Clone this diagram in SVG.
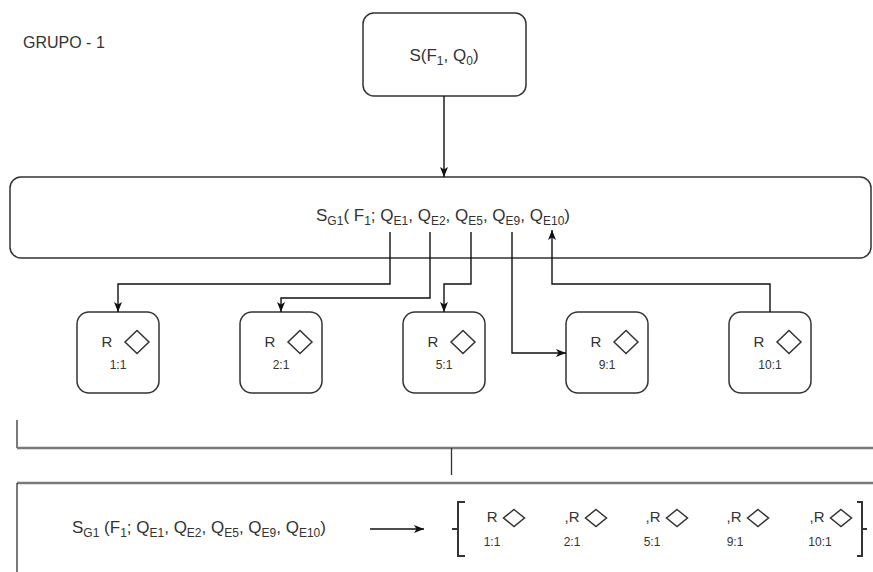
<svg xmlns="http://www.w3.org/2000/svg" width="873" height="572" viewBox="0 0 873 572">
<style>
  text { font-family: "Liberation Sans", Arial, sans-serif; fill: #333333; }
  .box { fill: #ffffff; stroke: #333333; stroke-width: 1.5; }
  .conn { fill: none; stroke: #111111; stroke-width: 1.4; }
  .big { font-size: 17px; }
  .sub { font-size: 12px; }
  .r { font-size: 15px; }
  .lbl { font-size: 12px; }
  .dia { fill: #ffffff; stroke: #333333; stroke-width: 1.5; }
  .rule { fill: none; stroke: #7a7a7a; stroke-width: 2.5; }
  .thin { fill: none; stroke: #333333; stroke-width: 1.3; }
  .brk { fill: none; stroke: #333333; stroke-width: 2; }
</style>
<defs>
  <marker id="arr" markerWidth="12" markerHeight="10" refX="10" refY="4" orient="auto" markerUnits="userSpaceOnUse">
    <path d="M0,0 L10,4 L0,8 L2.5,4 z" fill="#111111"/>
  </marker>
</defs>
<rect width="873" height="572" fill="#ffffff"/>

<g id="label-grupo">
  <text x="23" y="48" font-size="16">GRUPO - 1</text>
</g>

<g id="node-s">
  <rect class="box" x="363" y="13" width="163" height="83" rx="11"/>
  <text class="big" x="444" y="61" text-anchor="middle">S(F<tspan class="sub" dy="4">1</tspan><tspan dy="-4">, Q</tspan><tspan class="sub" dy="4">0</tspan><tspan dy="-4">)</tspan></text>
</g>

<g id="node-sg1">
  <rect class="box" x="10" y="177" width="861" height="81" rx="11"/>
  <text class="big" x="443" y="221" text-anchor="middle">S<tspan class="sub" dy="4">G1</tspan><tspan dy="-4">( F</tspan><tspan class="sub" dy="4">1</tspan><tspan dy="-4">; Q</tspan><tspan class="sub" dy="4">E1</tspan><tspan dy="-4">, Q</tspan><tspan class="sub" dy="4">E2</tspan><tspan dy="-4">, Q</tspan><tspan class="sub" dy="4">E5</tspan><tspan dy="-4">, Q</tspan><tspan class="sub" dy="4">E9</tspan><tspan dy="-4">, Q</tspan><tspan class="sub" dy="4">E10</tspan><tspan dy="-4">)</tspan></text>
</g>

<g id="node-r1">
  <rect class="box" x="77" y="312" width="82" height="81" rx="12"/>
  <text class="r" x="107" y="347" text-anchor="middle">R</text>
  <path class="dia" d="M137,330.5 L149,342 L137,353.5 L125,342 Z"/>
  <text class="lbl" x="118" y="369" text-anchor="middle">1:1</text>
</g>
<g id="node-r2">
  <rect class="box" x="240" y="312" width="82" height="81" rx="12"/>
  <text class="r" x="270" y="347" text-anchor="middle">R</text>
  <path class="dia" d="M300,330.5 L312,342 L300,353.5 L288,342 Z"/>
  <text class="lbl" x="281" y="369" text-anchor="middle">2:1</text>
</g>
<g id="node-r5">
  <rect class="box" x="403" y="312" width="82" height="81" rx="12"/>
  <text class="r" x="433" y="347" text-anchor="middle">R</text>
  <path class="dia" d="M463,330.5 L475,342 L463,353.5 L451,342 Z"/>
  <text class="lbl" x="444" y="369" text-anchor="middle">5:1</text>
</g>
<g id="node-r9">
  <rect class="box" x="566" y="312" width="82" height="81" rx="12"/>
  <text class="r" x="596" y="347" text-anchor="middle">R</text>
  <path class="dia" d="M626,330.5 L638,342 L626,353.5 L614,342 Z"/>
  <text class="lbl" x="607" y="369" text-anchor="middle">9:1</text>
</g>
<g id="node-r10">
  <rect class="box" x="729" y="312" width="82" height="81" rx="12"/>
  <text class="r" x="759" y="347" text-anchor="middle">R</text>
  <path class="dia" d="M789,330.5 L801,342 L789,353.5 L777,342 Z"/>
  <text class="lbl" x="770" y="369" text-anchor="middle">10:1</text>
</g>

<g id="connectors">
  <path class="conn" d="M444,96 V177" marker-end="url(#arr)"/>
  <path class="conn" d="M390,232 V284 H118 V312" marker-end="url(#arr)"/>
  <path class="conn" d="M430,232 V298 H281 V312" marker-end="url(#arr)"/>
  <path class="conn" d="M471,232 V284 H444 V312" marker-end="url(#arr)"/>
  <path class="conn" d="M512,232 V353 H566" marker-end="url(#arr)"/>
  <path class="conn" d="M770,312 V284 H552 V230" marker-end="url(#arr)"/>
</g>

<g id="separator">
  <path class="thin" d="M17,420 V448"/>
  <path class="rule" d="M17,448 H873"/>
  <path class="thin" d="M451.5,448 V475"/>
</g>

<g id="panel-bottom">
  <path class="rule" d="M17,483 H873"/>
  <path class="thin" d="M17,483 V572"/>
  <text class="big" x="72" y="533">S<tspan class="sub" dy="4">G1</tspan><tspan dy="-4"> (F</tspan><tspan class="sub" dy="4">1</tspan><tspan dy="-4">; Q</tspan><tspan class="sub" dy="4">E1</tspan><tspan dy="-4">, Q</tspan><tspan class="sub" dy="4">E2</tspan><tspan dy="-4">, Q</tspan><tspan class="sub" dy="4">E5</tspan><tspan dy="-4">, Q</tspan><tspan class="sub" dy="4">E9</tspan><tspan dy="-4">, Q</tspan><tspan class="sub" dy="4">E10</tspan><tspan dy="-4">)</tspan></text>
  <path class="conn" d="M370,529 H424" stroke-width="2" marker-end="url(#arr)"/>
  <path class="brk" d="M465,502 H458 V556 H465 M452,529 H458"/>
  <path class="brk" d="M857,502 H862 V556 H857 M862,529 H867"/>
  <text class="r" x="497.5" y="522" text-anchor="end">R</text>
  <path class="dia" d="M514,509.5 L524.5,518 L514,526.5 L503.5,518 Z"/>
  <text class="lbl" x="492" y="546" text-anchor="middle">1:1</text>
  <text class="r" x="579.5" y="522" text-anchor="end">,R</text>
  <path class="dia" d="M596,509.5 L606.5,518 L596,526.5 L585.5,518 Z"/>
  <text class="lbl" x="572" y="546" text-anchor="middle">2:1</text>
  <text class="r" x="660.5" y="522" text-anchor="end">,R</text>
  <path class="dia" d="M677,509.5 L687.5,518 L677,526.5 L666.5,518 Z"/>
  <text class="lbl" x="652" y="546" text-anchor="middle">5:1</text>
  <text class="r" x="741.5" y="522" text-anchor="end">,R</text>
  <path class="dia" d="M758,509.5 L768.5,518 L758,526.5 L747.5,518 Z"/>
  <text class="lbl" x="735" y="546" text-anchor="middle">9:1</text>
  <text class="r" x="824.5" y="522" text-anchor="end">,R</text>
  <path class="dia" d="M841,509.5 L851.5,518 L841,526.5 L830.5,518 Z"/>
  <text class="lbl" x="820" y="546" text-anchor="middle">10:1</text>
</g>
</svg>
